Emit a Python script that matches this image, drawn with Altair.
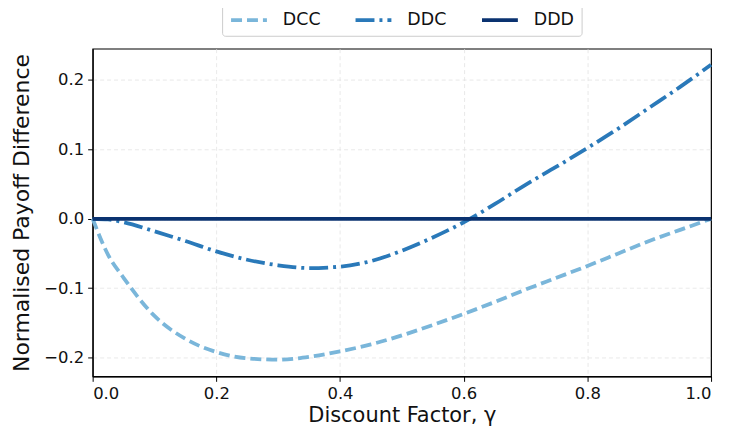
import altair as alt
import pandas as pd

# ---- data ----
gamma = [0.0, 0.025, 0.05, 0.1, 0.15, 0.2, 0.25, 0.3, 0.35, 0.4, 0.45, 0.5, 0.55,
         0.6, 0.65, 0.7, 0.75, 0.8, 0.85, 0.9, 0.95, 1.0]
dcc = [0.0, -0.052, -0.085, -0.140, -0.173, -0.192, -0.201, -0.203, -0.199, -0.191,
       -0.181, -0.168, -0.153, -0.137, -0.120, -0.102, -0.085, -0.068, -0.050, -0.032,
       -0.016, 0.0]
ddc = [0.0, -0.001, -0.005, -0.018, -0.032, -0.047, -0.059, -0.067, -0.071, -0.069,
       -0.061, -0.046, -0.027, -0.005, 0.021, 0.049, 0.075, 0.102, 0.130, 0.160,
       0.190, 0.222]
ddd = [0.0] * len(gamma)

series_names = ["DCC", "DDC", "DDD"]
series_colors = ["#7ab6da", "#2a79b9", "#0a3270"]
series_dashes = [[11, 5], [19, 5, 3, 5], [1, 0]]

y_ticks = [-0.2, -0.1, 0.0, 0.1, 0.2]
x_ticks = [0.0, 0.2, 0.4, 0.6, 0.8, 1.0]

rows = []
for name, vals in zip(series_names, [dcc, ddc, ddd]):
    for g, v in zip(gamma, vals):
        rows.append({"gamma": g, "value": v, "series": name})
df = pd.DataFrame(rows)

FONT = "DejaVu Sans"

legend = alt.Legend(
    title=None, orient="none", direction="horizontal",
    legendX=130, legendY=-56,
    symbolType="stroke", symbolSize=1296, symbolStrokeWidth=3.8,
    labelFontSize=17.5, labelFont=FONT, labelColor="#111111",
    labelOffset=14, columnPadding=27, padding=7,
    strokeColor="#cccccc", cornerRadius=3, fillColor="white",
)

edge_hide = {"condition": {"test": "datum.value === 1 || datum.value === 0", "value": 0},
             "value": 1}

chart = alt.Chart(df).mark_line(strokeWidth=3.8, interpolate="monotone").encode(
    x=alt.X("gamma:Q",
            scale=alt.Scale(domain=[0, 1], nice=False, zero=False),
            axis=alt.Axis(title="Discount Factor, γ", values=x_ticks, format=".1f",
                          titlePadding=3, titleFontSize=21, gridOpacity=edge_hide)),
    y=alt.Y("value:Q",
            scale=alt.Scale(domain=[-0.227, 0.245], nice=False, zero=False),
            axis=alt.Axis(title="Normalised Payoff Difference", values=y_ticks,
                          format=".1f", titlePadding=10, titleFontSize=22)),
    color=alt.Color("series:N", scale=alt.Scale(domain=series_names, range=series_colors),
                    legend=legend),
    strokeDash=alt.StrokeDash("series:N",
                              scale=alt.Scale(domain=series_names, range=series_dashes),
                              legend=legend),
).properties(
    width=621, height=329,
    autosize=alt.AutoSizeParams(type="none"),
    padding={"left": 85, "top": 40, "right": 12, "bottom": 56},
).configure_view(
    stroke="black", strokeWidth=1.2
).configure_axis(
    labelFont=FONT, titleFont=FONT, labelFontSize=16.5,
    labelColor="#111111", titleColor="#111111", titleFontWeight="normal",
    domainColor="black", domainWidth=1.2, tickColor="black", tickSize=5, tickWidth=1,
    labelPadding=4,
    grid=True, gridColor="#e3e3e3", gridDash=[4, 3], gridWidth=0.8,
)

chart.save("out.html", embed_options={"renderer": "svg", "actions": False})
